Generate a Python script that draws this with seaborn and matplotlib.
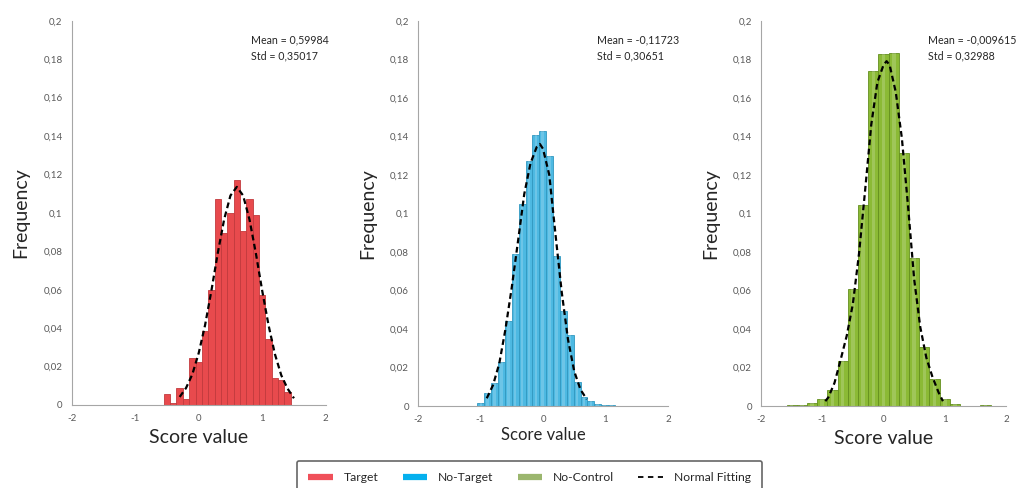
import numpy as np
import matplotlib
matplotlib.use("Agg")
import matplotlib.pyplot as plt
import seaborn as sns
from matplotlib.lines import Line2D
from matplotlib.ticker import FixedLocator, FixedFormatter

# ---------------- data ----------------
target_centers = [-0.5, -0.4, -0.3, -0.2, -0.1, 0.0, 0.1, 0.2, 0.3, 0.4,
                  0.5, 0.6, 0.7, 0.8, 0.9, 1.0, 1.1, 1.2, 1.3, 1.4]
target_freq = [0.0057, 0.0012, 0.0087, 0.0030, 0.0242, 0.0225, 0.0386, 0.0597, 0.1070, 0.0895,
               0.1000, 0.1170, 0.0904, 0.1070, 0.0987, 0.0571, 0.0341, 0.0142, 0.0130, 0.0069]
target_binwidth = 0.1

notarget_centers = [-0.995, -0.885, -0.775, -0.665, -0.555, -0.445, -0.335, -0.225, -0.115, -0.005,
                    0.105, 0.215, 0.325, 0.435, 0.545, 0.655, 0.765, 0.875, 0.985, 1.095]
notarget_freq = [0.0016, 0.0070, 0.0119, 0.0226, 0.0440, 0.0787, 0.1048, 0.1274, 0.1409, 0.1429,
                 0.1297, 0.0779, 0.0493, 0.0371, 0.0125, 0.0045, 0.0028, 0.0012, 0.0007, 0.0007]
notarget_binwidth = 0.11

nocontrol_centers = [-1.5, -1.333, -1.167, -1.0, -0.833, -0.667, -0.5, -0.333, -0.167, 0.0,
                     0.167, 0.333, 0.5, 0.667, 0.833, 1.0, 1.167, 1.333, 1.5, 1.667]
nocontrol_freq = [0.0003, 0.0007, 0.0014, 0.0038, 0.0085, 0.0234, 0.0607, 0.1043, 0.1740, 0.1827,
                  0.1830, 0.1315, 0.0766, 0.0308, 0.0140, 0.0038, 0.0012, 0.0, 0.0, 0.0007]
nocontrol_binwidth = 1 / 6

# normal fitting curves
target_fit_x = [-0.3, -0.2, -0.1, 0.0, 0.1, 0.2, 0.3, 0.4, 0.5, 0.6,
                0.7, 0.8, 0.9, 1.0, 1.1, 1.2, 1.3, 1.4, 1.5]
target_fit_y = [0.0042, 0.0088, 0.0160, 0.0270, 0.0415, 0.0595, 0.0790, 0.0965, 0.1090, 0.1135,
                0.1090, 0.0965, 0.0790, 0.0595, 0.0415, 0.0265, 0.0155, 0.0085, 0.0035]

notarget_fit_x = [-0.9, -0.8, -0.7, -0.6, -0.5, -0.4, -0.3, -0.2, -0.1, -0.05,
                  0.0, 0.1, 0.2, 0.3, 0.4, 0.5, 0.6, 0.7]
notarget_fit_y = [0.0040, 0.0108, 0.0220, 0.0400, 0.0615, 0.0855, 0.1100, 0.1260, 0.1345, 0.1360,
                  0.1335, 0.1200, 0.0890, 0.0590, 0.0345, 0.0180, 0.0085, 0.0035]

nocontrol_fit_x = [-0.95, -0.9, -0.8, -0.7, -0.6, -0.5, -0.4, -0.3, -0.2, -0.1, 0.0,
                   0.05, 0.1, 0.2, 0.3, 0.4, 0.5, 0.6, 0.7, 0.8, 0.9, 0.97]
nocontrol_fit_y = [0.0025, 0.0045, 0.0120, 0.0240, 0.0365, 0.0530, 0.0790, 0.1120, 0.1460, 0.1680, 0.1770,
                   0.1790, 0.1770, 0.1630, 0.1390, 0.1040, 0.0660, 0.0410, 0.0250, 0.0150, 0.0070, 0.0025]

stats_text = ["Mean = 0,59984\nStd = 0,35017",
              "Mean = -0,11723\nStd = 0,30651",
              "Mean = -0,009615\nStd = 0,32988"]

series_names = ["Target", "No-Target", "No-Control", "Normal Fitting"]

y_ticks = [0, 0.02, 0.04, 0.06, 0.08, 0.1, 0.12, 0.14, 0.16, 0.18, 0.2]
y_tick_labels = ["0", "0,02", "0,04", "0,06", "0,08", "0,1", "0,12", "0,14", "0,16", "0,18", "0,2"]
x_ticks = [-2, -1, 0, 1, 2]
x_tick_labels = ["-2", "-1", "0", "1", "2"]

# ---------------- style ----------------
sns.set_style("white")
plt.rcParams["font.family"] = ["Lato", "DejaVu Sans"]

bar_colors = ["#E84A4D", "#4DB9E2", "#8BBA35"]
edge_colors = ["#C23A3D", "#3198C0", "#648F1E"]
legend_colors = ["#F0505A", "#05B0EE", "#9BB66E"]
spine_color = "#A6A6A6"

fig = plt.figure(figsize=(10.21, 4.88), dpi=100)

W, H = 1021.0, 488.0
boxes = [(71.7, 325.7, 20.7, 405.0),
         (418.0, 668.0, 20.7, 406.0),
         (761.0, 1006.0, 20.7, 406.0)]

panels = [
    (target_centers, target_freq, target_binwidth, target_fit_x, target_fit_y),
    (notarget_centers, notarget_freq, notarget_binwidth, notarget_fit_x, notarget_fit_y),
    (nocontrol_centers, nocontrol_freq, nocontrol_binwidth, nocontrol_fit_x, nocontrol_fit_y),
]
text_x = [0.706, 0.717, 0.68]
xlabel_size = [14, 12, 14]
xlabel_pad = [4, 2, 4]

for i, ((l, r, t, b), (cent, freq, bw, fx, fy)) in enumerate(zip(boxes, panels)):
    ax = fig.add_axes([l / W, (H - b) / H, (r - l) / W, (b - t) / H])
    brange = (cent[0] - bw / 2, cent[-1] + bw / 2)
    sns.histplot(x=cent, weights=freq, bins=len(cent), binrange=brange, stat="count",
                 color=bar_colors[i], edgecolor=edge_colors[i], linewidth=0.6, alpha=1.0, ax=ax)
    if i > 0:
        sns.histplot(x=cent, weights=freq, bins=len(cent), binrange=brange, stat="count",
                     color="white", shrink=0.35, linewidth=0, alpha=0.18, ax=ax)
    sns.lineplot(x=fx, y=fy, color="black", linewidth=1.6, ax=ax,
                 estimator=None, sort=False)
    ax.lines[-1].set_linestyle((0, (2.6, 1.6)))

    ax.set_xlim(-2, 2)
    ax.set_ylim(0, 0.2)
    ax.xaxis.set_major_locator(FixedLocator(x_ticks))
    ax.xaxis.set_major_formatter(FixedFormatter(x_tick_labels))
    ax.yaxis.set_major_locator(FixedLocator(y_ticks))
    ax.yaxis.set_major_formatter(FixedFormatter(y_tick_labels))
    ax.tick_params(axis="both", which="major", labelsize=7, colors="#595959",
                   length=3.5, width=0.7, direction="out", pad=3)
    for s in ["top", "right"]:
        ax.spines[s].set_visible(False)
    for s in ["left", "bottom"]:
        ax.spines[s].set_color(spine_color)
        ax.spines[s].set_linewidth(0.8)
    ax.set_xlabel("Score value", fontsize=xlabel_size[i], color="#262626", labelpad=xlabel_pad[i])
    ax.set_ylabel("Frequency", fontsize=14, color="#262626", labelpad=10)
    ax.text(text_x[i], 0.964, stats_text[i], transform=ax.transAxes, fontsize=7.7,
            color="#262626", va="top", ha="left", linespacing=1.5)
    ax.set_facecolor("white")

handles = [Line2D([0], [0], color=legend_colors[0], lw=4.5, solid_capstyle="butt"),
           Line2D([0], [0], color=legend_colors[1], lw=4.5, solid_capstyle="butt"),
           Line2D([0], [0], color=legend_colors[2], lw=4.5, solid_capstyle="butt"),
           Line2D([0], [0], color="black", lw=1.3, linestyle=(0, (3, 2.5)))]
leg = fig.legend(handles, series_names, loc="upper left", ncol=4, mode="expand",
                 bbox_to_anchor=(297 / W, 0.0, 465 / W, 1 - 461 / H), fontsize=8.7, frameon=True,
                 fancybox=True, handlelength=2.0, handletextpad=0.9, columnspacing=1.5,
                 borderpad=0.95, borderaxespad=0)
frame = leg.get_frame()
frame.set_edgecolor("#404040")
frame.set_linewidth(1.2)
for txt in leg.get_texts():
    txt.set_color("#262626")

fig.savefig("out.png", dpi=100, facecolor="white")
